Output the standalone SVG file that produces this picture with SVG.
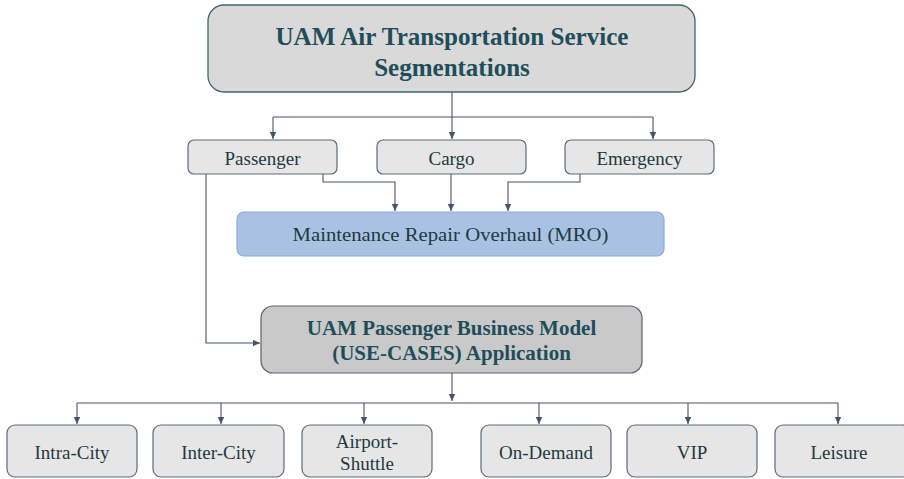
<svg xmlns="http://www.w3.org/2000/svg" width="904" height="479" viewBox="0 0 904 479">
<defs>
<marker id="ah" markerWidth="8" markerHeight="8" refX="7" refY="4" orient="auto" markerUnits="userSpaceOnUse">
<path d="M0,0.8 L7,4 L0,7.2 Z" fill="#44546a"/>
</marker>
</defs>
<style>
.t{font-family:"Liberation Serif","Times New Roman",serif;text-anchor:middle;dominant-baseline:central}
.title{font-size:25px;font-weight:bold;fill:#1f4e5a}
.sub{font-size:21px;font-weight:bold;fill:#1f4e5a}
.lbl{font-size:19px;fill:#1e3a40}
.box{fill:#e7e6e6;stroke:#5b6b7b;stroke-width:1.2}
.c{fill:none;stroke:#44546a;stroke-width:1.1}
.ca{fill:none;stroke:#44546a;stroke-width:1.1;marker-end:url(#ah)}
</style>
<rect width="904" height="479" fill="#ffffff"/>
<g id="connectors">
<path class="ca" d="M452,92 V139"/>
<path class="c" d="M273,117 H653"/>
<path class="ca" d="M273,117 V139"/>
<path class="ca" d="M653,117 V139"/>
<path class="ca" d="M323,174 V182 H395 V211"/>
<path class="ca" d="M451,174 V211"/>
<path class="ca" d="M580,174 V182 H508 V211"/>
<path class="ca" d="M206,174 V343 H260"/>
<path class="ca" d="M452,373 V401"/>
<path class="c" d="M77,403 H838"/>
<path class="ca" d="M77,403 V424"/>
<path class="ca" d="M221,403 V424"/>
<path class="ca" d="M364,403 V424"/>
<path class="ca" d="M539,403 V424"/>
<path class="ca" d="M688,403 V424"/>
<path class="ca" d="M838,403 V424"/>
</g>
<g id="top">
<rect x="208" y="5" width="487" height="87" rx="16" fill="#d9d9d9" stroke="#3f6670" stroke-width="1.3"/>
<text class="t title" x="452" y="36" textLength="353" lengthAdjust="spacingAndGlyphs">UAM Air Transportation Service</text>
<text class="t title" x="452" y="67">Segmentations</text>
</g>
<g id="passenger">
<rect class="box" x="188" y="140" width="149" height="34" rx="6"/>
<text class="t lbl" x="262.5" y="158">Passenger</text>
</g>
<g id="cargo">
<rect class="box" x="377" y="140" width="149" height="34" rx="6"/>
<text class="t lbl" x="451.5" y="158">Cargo</text>
</g>
<g id="emergency">
<rect class="box" x="565" y="140" width="149" height="34" rx="6"/>
<text class="t lbl" x="639.5" y="158">Emergency</text>
</g>
<g id="mro">
<rect x="237" y="212" width="427" height="44" rx="7" fill="#a9c2e4" stroke="#8eaad6" stroke-width="1.2"/>
<text class="t lbl" x="450.5" y="234" textLength="316" lengthAdjust="spacingAndGlyphs">Maintenance Repair Overhaul (MRO)</text>
</g>
<g id="business">
<rect x="261" y="306" width="381" height="67" rx="12" fill="#c9c9c9" stroke="#5a6470" stroke-width="1.2"/>
<text class="t sub" x="451.5" y="328">UAM Passenger Business Model</text>
<text class="t sub" x="451.5" y="353">(USE-CASES) Application</text>
</g>
<g id="intra-city">
<rect class="box" x="7" y="425" width="130" height="52" rx="8"/>
<text class="t lbl" x="72" y="452">Intra-City</text>
</g>
<g id="inter-city">
<rect class="box" x="153" y="425" width="131" height="52" rx="8"/>
<text class="t lbl" x="218.5" y="452">Inter-City</text>
</g>
<g id="airport-shuttle">
<rect class="box" x="302" y="425" width="130" height="52" rx="8"/>
<text class="t lbl" x="367" y="441">Airport-</text>
<text class="t lbl" x="367" y="463">Shuttle</text>
</g>
<g id="on-demand">
<rect class="box" x="481" y="425" width="130" height="52" rx="8"/>
<text class="t lbl" x="546" y="452">On-Demand</text>
</g>
<g id="vip">
<rect class="box" x="627" y="425" width="130" height="52" rx="8"/>
<text class="t lbl" x="692" y="452">VIP</text>
</g>
<g id="leisure">
<rect class="box" x="775" y="425" width="135" height="52" rx="8"/>
<text class="t lbl" x="839" y="452">Leisure</text>
</g>
</svg>
